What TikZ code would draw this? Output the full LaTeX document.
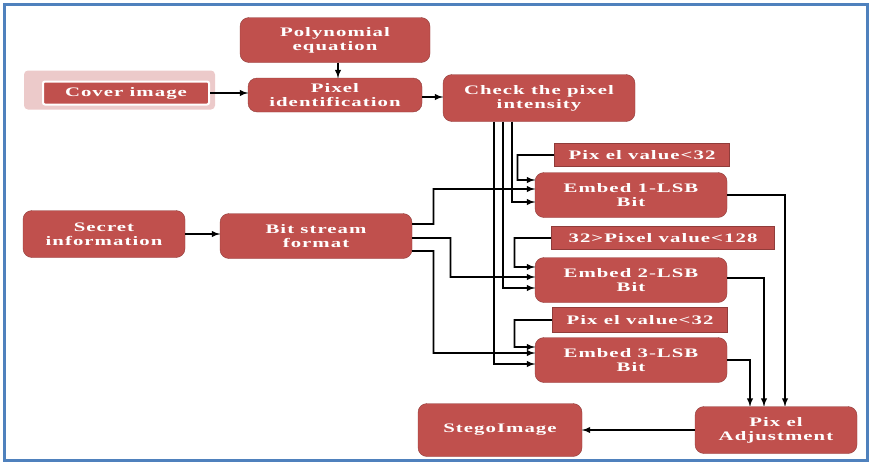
\documentclass[tikz,border=0pt]{standalone}
\usepackage{fontspec}
\setmainfont{Liberation Serif}
\newfontfamily\boxfont{Liberation Serif}[FakeStretch=1.6, LetterSpace=8]
\usetikzlibrary{positioning,calc,arrows.meta,backgrounds}
\definecolor{boxred}{HTML}{C0504D}
\definecolor{framebl}{HTML}{4F81BD}

\tikzset{
  stage/.style={draw=boxred!75!black, fill=boxred, rounded corners=9pt,
    text=white, font=\boxfont\bfseries\fontsize{13}{14}\selectfont,
    align=center, inner sep=1pt, minimum width=192pt, minimum height=45pt},
  cond/.style={stage, rounded corners=0pt, minimum height=23pt},
  wire/.style={line width=1.4pt, -{Latex[length=8pt,width=6.5pt]},
    preaction={draw=black!35, line width=2.6pt, -}},
}

\begin{document}
\begin{tikzpicture}[x=1pt, y=-1pt]
  \useasboundingbox (0,0) rectangle (873,466);
  \draw[framebl, line width=3pt] (4.5,4.5) rectangle (867,460.5);

  % Top row
  \node[stage, minimum width=190pt] (poly) at (335,40) {Polynomial\\equation};
  \node[stage, rounded corners=2pt, draw=white, line width=2pt,
        minimum width=166pt, minimum height=23pt] (cover) at (126,93) {Cover image};
  \node[stage, minimum width=174pt, minimum height=34pt] (pixid) at (335,95) {Pixel\\identification};
  \node[stage, minimum height=47pt] (chk) at (539,98) {Check the pixel\\intensity};
  \begin{scope}[on background layer]
    \fill[boxred!30, rounded corners=4pt] ($(cover.south west)+(-18,4)$) rectangle ($(cover.north east)+(5,-10)$);
  \end{scope}

  % Secret side
  \node[stage, minimum width=162pt, minimum height=47pt] (secret) at (104,234) {Secret\\information};
  \node[stage] (bitstr) at (316,236) {Bit stream\\format};

  % Embedding stages
  \node[cond, minimum width=175pt] (pv1) at (642,155) {Pix el value<32};
  \node[stage] (emb1) at (631,195) {Embed 1-LSB\\Bit};
  \node[cond, minimum width=223pt] (pv2) at (663,238) {32>Pixel value<128};
  \node[stage] (emb2) at (631,280) {Embed 2-LSB\\Bit};
  \node[cond, minimum width=175pt, minimum height=25pt] (pv3) at (640,320) {Pix el value<32};
  \node[stage] (emb3) at (631,360) {Embed 3-LSB\\Bit};

  % Output row
  \node[stage, minimum width=164pt, minimum height=53pt] (stego) at (500,430) {StegoImage};
  \node[stage, minimum width=162pt, minimum height=47pt] (adj) at (776,430) {Pix el\\Adjustment};

  % Main flow
  \draw[wire] ($(poly.south)+(3,0)$) -- ($(pixid.north)+(3,0)$);
  \draw[wire] (cover.east) -- (cover.east -| pixid.west);
  \draw[wire] ($(pixid.east)+(0,2)$) -- ($(chk.west)+(0,-1)$);
  \draw[wire] (secret.east) -- (secret.east -| bitstr.west);

  % Intensity check to the three stages
  \draw[wire] ($(chk.south)+(-27,0)$) |- ($(emb1.west)+(0,7)$);
  \draw[wire] ($(chk.south)+(-36,0)$) |- ($(emb2.west)+(0,8)$);
  \draw[wire] ($(chk.south)+(-45,0)$) |- ($(emb3.west)+(0,4)$);

  % Conditions
  \draw[wire] (pv1.west) -- ++(-37,0) |- ($(emb1.west)+(0,-15)$);
  \draw[wire] (pv2.west) -- ++(-37,0) |- ($(emb2.west)+(0,-13)$);
  \draw[wire] (pv3.west) -- ++(-38,0) |- ($(emb3.west)+(0,-13)$);

  % Bit stream to the three stages
  \draw[wire] ($(bitstr.east)+(0,-12)$) -- ++(21,0) |- ($(emb1.west)+(0,-6)$);
  \draw[wire] ($(bitstr.east)+(0,2)$) -- ++(38,0) |- ($(emb2.west)+(0,-3)$);
  \draw[wire] ($(bitstr.east)+(0,15)$) -- ++(21,0) |- ($(emb3.west)+(0,-7)$);

  % Stages to adjustment
  \draw[wire] (emb1.east) -| ($(adj.north)+(9,0)$);
  \draw[wire] ($(emb2.east)+(0,-2)$) -| ($(adj.north)+(-12,0)$);
  \draw[wire] (emb3.east) -| ($(adj.north)+(-26,0)$);
  \draw[wire] (adj.west) -- (adj.west -| stego.east);
\end{tikzpicture}
\end{document}
